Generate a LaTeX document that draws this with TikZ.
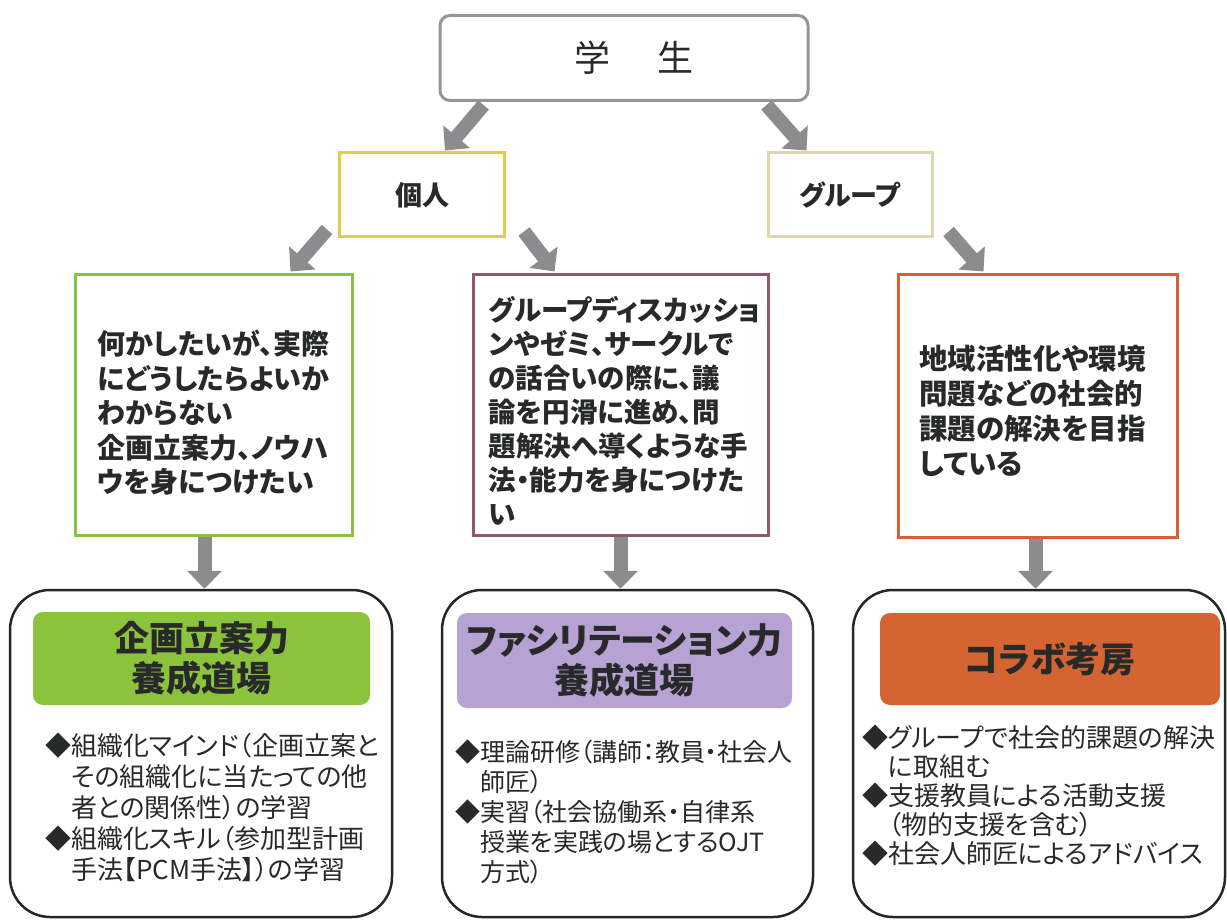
\documentclass[tikz,border=0pt]{standalone}
\usepackage{fontspec}
\setmainfont{Noto Sans CJK JP}[RawFeature=+palt]
\usetikzlibrary{arrows.meta,calc}
\definecolor{txt}{RGB}{40,42,42}
\definecolor{agray}{RGB}{140,140,142}
\definecolor{sgray}{RGB}{150,150,150}
\definecolor{pyel}{RGB}{228,205,70}
\definecolor{gbei}{RGB}{222,214,175}
\definecolor{bgreen}{RGB}{135,195,65}
\definecolor{bmaroon}{RGB}{150,85,110}
\definecolor{borange}{RGB}{215,95,50}
\definecolor{hgreen}{RGB}{140,195,60}
\definecolor{hpurple}{RGB}{182,163,212}
\definecolor{horange}{RGB}{212,100,50}
\tikzset{
  garrow/.style={draw=agray, line width=14pt, -{Triangle[width=34pt,length=18pt]}},
  midbox/.style={draw, line width=3pt, fill=white, inner sep=0pt},
  midtxt/.style={text=txt, align=left, inner sep=0pt,
     font=\bfseries\fontsize{28}{34.5}\selectfont},
  outerbox/.style={draw=black!85, line width=2.5pt, rounded corners=40pt, fill=white, inner sep=0pt},
  headbox/.style={rounded corners=10pt, inner sep=0pt, text=txt, align=center,
     font=\bfseries\fontsize{35}{40}\selectfont},
  bullettxt/.style={anchor=north west, align=left, text=txt, inner sep=0pt},
  lvl1/.style={draw, line width=3pt, fill=white, text=txt, inner sep=0pt,
     font=\bfseries\fontsize{27}{30}\selectfont}
}
\begin{document}
\begin{tikzpicture}[x=1pt,y=-1pt]
\useasboundingbox[fill=white] (0,0) rectangle (1227,920);
% top
\node[draw=sgray, line width=3pt, rounded corners=10pt, fill=white, minimum width=368pt, minimum height=85pt,
  font=\fontsize{36}{40}\selectfont, text=txt] (s) at (624,58) {\hspace*{20pt}学\hspace{1.3em}生};
\node[lvl1, draw=pyel, minimum width=165pt, minimum height=84pt] (p) at (422,195) {個人};
\node[lvl1, draw=gbei, minimum width=164pt, minimum height=84pt] (g) at (850,195) {グループ};
% middle boxes
\node[midbox, draw=bgreen, minimum width=277pt, minimum height=260pt] (b1) at (213.5,405) {};
\node[midbox, draw=bmaroon, minimum width=295pt, minimum height=260pt] (b2) at (620.5,405) {};
\node[midbox, draw=borange, minimum width=279pt, minimum height=262pt] (b3) at (1037.5,406) {};
\node[midtxt] (t1) at ($(b1.center)+(0,8)$)
 {何かしたいが、実際\\にどうしたらよいか\\わからない\\企画立案力、ノウハ\\ウを身につけたい};
\node[midtxt, font=\bfseries\fontsize{27.5}{34}\selectfont] (t2) at ($(b2.center)+(4,6)$)
 {グループディスカッショ\\ンやゼミ、サークルで\\の話合いの際に、議\\論を円滑に進め、問\\題解決へ導くような手\\法・能力を身につけた\\い};
\node[midtxt, font=\bfseries\fontsize{28.5}{35}\selectfont] (t3) at ($(b3.center)+(-5,5)$)
 {地域活性化や環境\\問題などの社会的\\課題の解決を目指\\している};
% bottom boxes
\node[outerbox, minimum width=382pt, minimum height=327pt] (A) at (201,753.5) {};
\node[outerbox, minimum width=371pt, minimum height=327pt] (B) at (627.5,753.5) {};
\node[outerbox, minimum width=372pt, minimum height=327pt] (C) at (1039,753.5) {};
\node[headbox, fill=hgreen, minimum width=337pt, minimum height=93pt] (hA) at (201.5,658.5) {企画立案力\\養成道場};
\node[headbox, fill=hpurple, minimum width=335pt, minimum height=95pt] (hB) at (624.5,660.5) {ファシリテーション力\\養成道場};
\node[headbox, fill=horange, minimum width=340pt, minimum height=92pt] (hC) at (1050,659) {コラボ考房};
\node[bullettxt, font=\fontsize{26}{31}\selectfont] (tA) at (45,733)
 {◆組織化マインド（企画立案と\\\phantom{◆}その組織化に当たっての他\\\phantom{◆}者との関係性）の学習\\◆組織化スキル（参加型計画\\\phantom{◆}手法【PCM手法】）の学習};
\node[bullettxt, font=\fontsize{25}{30}\selectfont] (tB) at (455,740)
 {◆理論研修（講師：教員・社会人\\\phantom{◆}師匠）\\◆実習（社会協働系・自律系\\\phantom{◆}授業を実践の場とするOJT\\\phantom{◆}方式）};
\node[bullettxt, font=\fontsize{26}{29}\selectfont] (tC) at (862,725)
 {◆グループで社会的課題の解決\\\phantom{◆}に取組む\\◆支援教員による活動支援\\\phantom{◆}（物的支援を含む）\\◆社会人師匠によるアドバイス};
% arrows
\draw[garrow] ($(s.south west)+(45,3)$) -- ($(p.north west)+(107,-1)$);
\draw[garrow] ($(s.south east)+(-43,3)$) -- ($(g.north west)+(40,-1)$);
\draw[garrow] ($(p.south west)+(-11,-9)$) -- ($(b1.north west)+(217,-2)$);
\draw[garrow] ($(p.south east)+(18,-7)$) -- ($(b2.north west)+(83,-2)$);
\draw[garrow] ($(g.south east)+(15,-7)$) -- ($(b3.north west)+(87,-2)$);
\draw[garrow] ([xshift=-9pt]b1.south) -- ([xshift=-9pt]b1.south |- A.north);
\draw[garrow] (b2.south) -- (b2.south |- B.north);
\draw[garrow] ([xshift=-2pt]b3.south) -- ([xshift=-2pt]b3.south |- C.north);
\end{tikzpicture}
\end{document}
